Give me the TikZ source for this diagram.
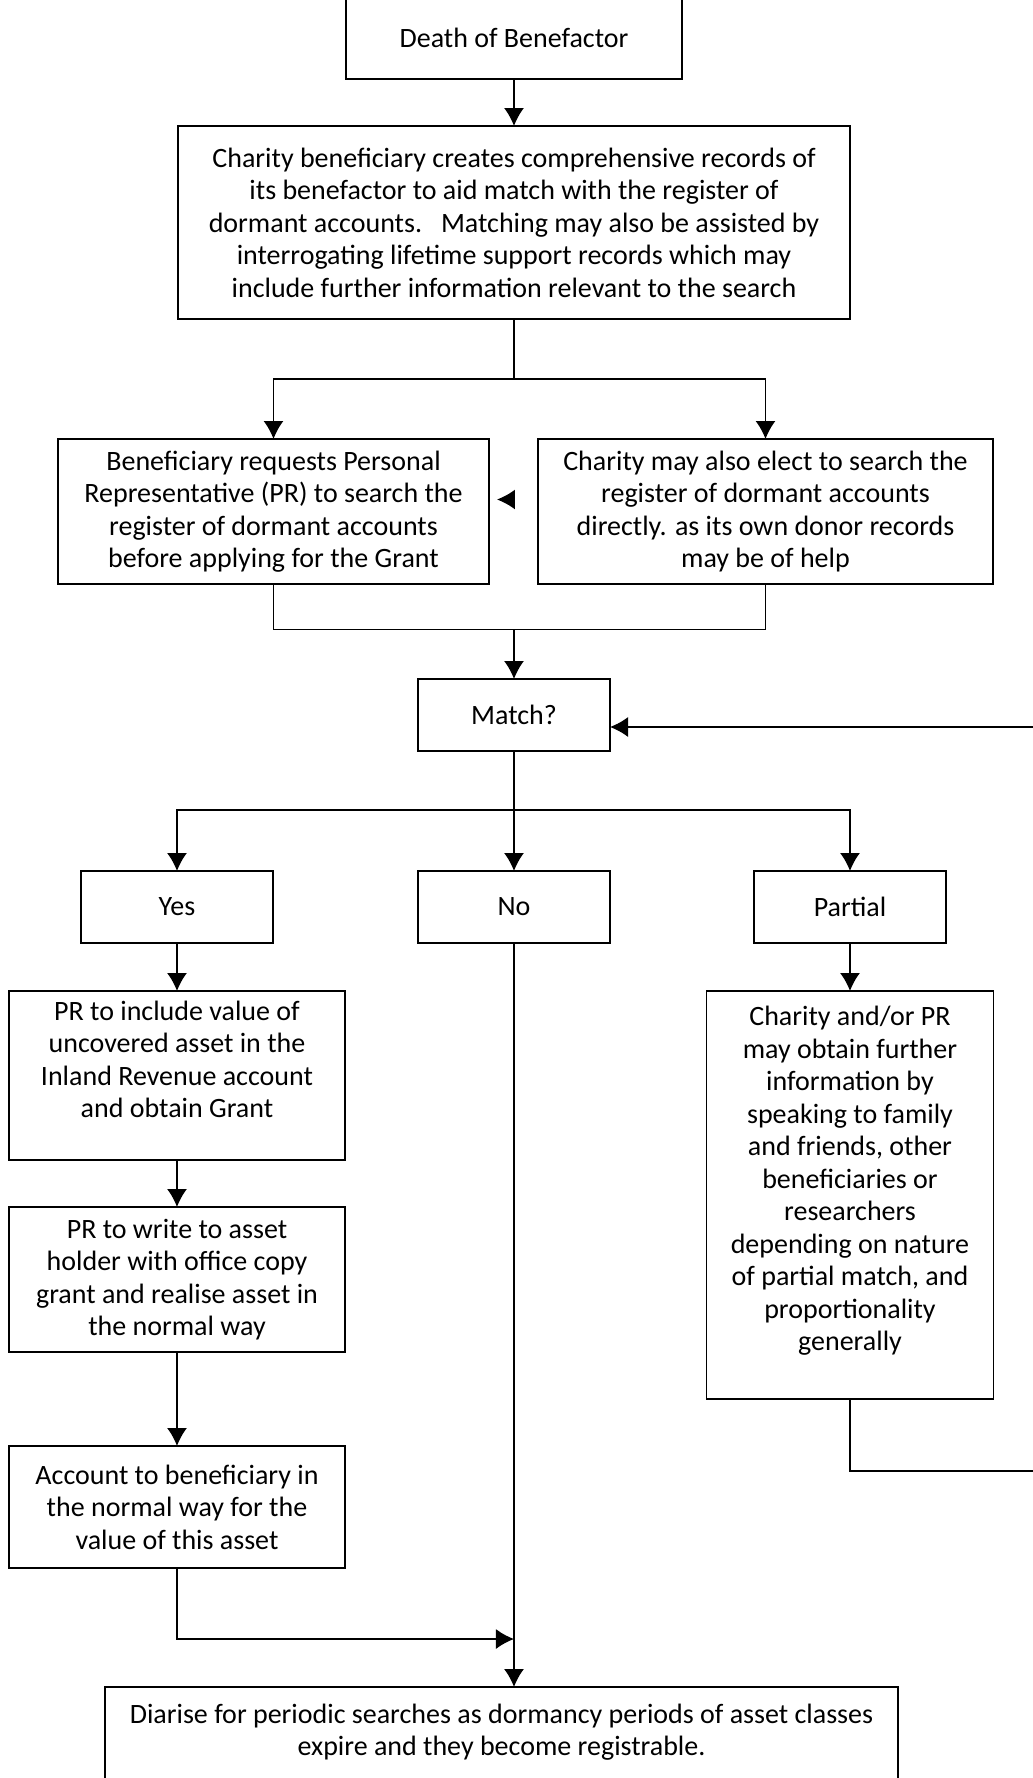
\documentclass[tikz,border=0pt]{standalone}
\usepackage{fontspec}
\setmainfont{Carlito}
\usepackage{tikz}
\usetikzlibrary{arrows.meta,positioning,calc}

\begin{document}
\begin{tikzpicture}[font=\fontsize{14pt}{16.25pt}\selectfont,>={Latex[length=9pt,width=10pt]},
line width=0.8pt,
box/.style={draw,align=center,fill=white,inner sep=3pt,outer sep=0pt},
small/.style={box,minimum width=96pt,minimum height=36pt},
side/.style={box,minimum width=168pt},
arr/.style={->}]
\useasboundingbox (-257pt,19pt) rectangle (259.5pt,-870pt);
\node[box,minimum width=168pt,minimum height=41pt] (death) at (0,0) {Death of Benefactor};
\node[box,below=23.5pt of death,minimum width=336pt,minimum height=96.5pt] (records) {Charity beneficiary creates comprehensive records of\\its benefactor to aid match with the register of\\dormant accounts.\ \ \ Matching may also be assisted by\\interrogating lifetime support records which may\\include further information relevant to the search};
\coordinate[below=30pt of records] (split1);
\node[box,below=60pt of records,xshift=-120.25pt,minimum width=215.5pt,minimum height=72.5pt] (prsearch) {Beneficiary requests Personal\\Representative (PR) to search the\\register of dormant accounts\\before applying for the Grant};
\node[box,right=24.5pt of prsearch,minimum width=227.5pt,minimum height=72.5pt] (ownsearch) {Charity may also elect to search the\\register of dormant accounts\\directly. as its own donor records\\may be of help};
\coordinate (join1) at ($(prsearch.south -| records.south)+(0,-22.75pt)$);
\node[small,below=24.75pt of join1] (match) {Match?};
\coordinate[below=29.5pt of match] (split2);
\node[small,below=60pt of match] (no) {No};
\node[small,left=72.5pt of no] (yes) {Yes};
\node[small,right=72pt of no] (partial) {Partial};
\node[side,below=24pt of yes,minimum height=84.5pt] (include) {PR to include value of\\uncovered asset in the\\Inland Revenue account\\and obtain Grant\\\mbox{}};
\node[side,below=23.5pt of include,minimum height=72.5pt] (write) {PR to write to asset\\holder with office copy\\grant and realise asset in\\the normal way};
\node[side,below=47pt of write,minimum height=61pt] (account) {Account to beneficiary in\\the normal way for the\\value of this asset};
\node[box,below=24pt of partial,minimum width=143.5pt,minimum height=204pt] (further) {Charity and/or PR\\may obtain further\\information by\\speaking to family\\and friends, other\\beneficiaries or\\researchers\\depending on nature\\of partial match, and\\proportionality\\generally\\\mbox{}};
\coordinate (join2) at ($(account.south -| no.south)+(0,-35.5pt)$);
\node[box,below=24pt of join2,xshift=-6.25pt,minimum width=396.5pt,minimum height=59pt] (diarise) {Diarise for periodic searches as dormancy periods of asset classes\\expire and they become registrable.\\\mbox{}};
\coordinate (rim) at ($(match.east -| ownsearch.east)+(30pt,-6pt)$);
% top part
\draw[arr] (death) -- (records);
\draw (records) -- (split1);
\draw[arr] (split1) -| (prsearch);
\draw[arr] (split1) -| (ownsearch);
\draw (prsearch) |- (join1) -| (ownsearch);
\draw[arr] (join1) -- (match);
\draw[arr,shorten <=11.5pt,shorten >=4pt] ([yshift=6pt]ownsearch.west) -- ([yshift=6pt]prsearch.east);
% the three outcomes
\draw (match) -- (split2);
\draw[arr] (split2) -| (yes);
\draw[arr] (split2) -- (no);
\draw[arr] (split2) -| (partial);
\draw[arr] (yes) -- (include);
\draw[arr] (include) -- (write);
\draw[arr] (write) -- (account);
\draw[arr] (partial) -- (further);
\draw[arr] (no) -- (diarise.north -| no.south);
\draw[arr] (account) |- (join2);
\draw[arr] (further.south) -- ++(0,-36pt) -| (rim) -- ([yshift=-6pt]match.east);
\end{tikzpicture}
\end{document}
